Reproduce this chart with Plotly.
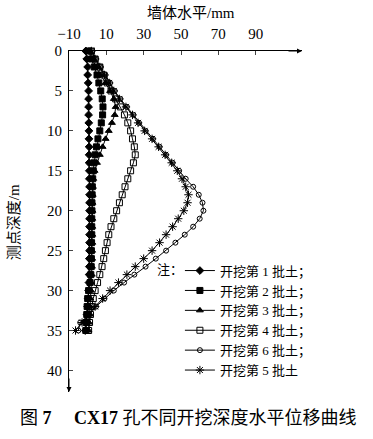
import plotly.graph_objects as go

depth = list(range(0, 36))

s1 = [-1, -0.5, 0, 0, 0.3, 0.5, 0.5, 0.5, 0.5, 0.6, 0.7, 0.7, 0.8, 0.8, 0.8, 0.9, 0.9, 1, 1, 1,
      1, 1, 1, 1, 1, 1, 0.9, 0.9, 0.8, 0.7, 0.5, 0.3, 0, -0.3, -0.8, -1.3]
s2 = [0.5, 2, 3.5, 5, 6, 7, 7.8, 8.2, 8, 7.3, 6.5, 5.5, 4.7, 4, 3.4, 3, 2.7, 2.5, 2.4, 2.3,
      2.3, 2.2, 2.2, 2.2, 2.1, 2, 2, 1.9, 1.7, 1.3, 0.5, 0, -0.3, -0.5, -0.8, -1]
s3 = [1, 2.5, 4.5, 7, 9.5, 12, 14, 15, 14.5, 13, 11.3, 9.6, 8, 6.5, 5, 3.7, 3, 2.8, 2.7, 2.6,
      2.6, 2.5, 2.5, 2.5, 2.5, 2.4, 2.4, 2.3, 2.2, 2, 1.8, 1.5, 1.2, 1, 0.7, 0.5]
s4 = [2, 4, 6.5, 8.5, 10.5, 12.5, 15, 17.5, 19.7, 21.5, 23, 24, 25, 25.5, 24.5, 23, 21.5, 20, 18.5, 17,
      15.5, 14, 12.5, 11.3, 10.4, 9.5, 8.6, 7.7, 6.5, 5.3, 4, 3, 2.2, 1.5, 1, 0.5]
s6 = [2.5, 4.5, 7, 9.5, 12, 14.5, 17.5, 21, 24.5, 27.5, 31, 35, 38.5, 42, 45.5, 49, 52.5, 56.5, 59.5, 61.5,
      62, 60, 56.5, 52, 47, 42, 36.5, 31, 25, 19.5, 14, 9, 4.5, 1, -4, -5]
s5 = [2, 4, 6.5, 9, 11.5, 14, 17, 20.5, 24, 27, 30.5, 34.5, 38, 41.5, 45, 48, 50.5, 52.5, 54, 53.5,
      51.5, 48.5, 45.5, 42, 38.5, 34.5, 30, 25.5, 21, 16.5, 12, 8, 4, 0.5, -3, -6.5]

names = ["开挖第 1 批土；", "开挖第 2 批土；", "开挖第 3 批土；", "开挖第 4 批土；", "开挖第 6 批土；", "开挖第 5 批土"]
series = [s1, s2, s3, s4, s6, s5]
symbols = ["diamond", "square", "triangle-up", "square-open", "circle-open", "asterisk-open"]
sizes = [6, 6, 6, 6, 5, 7]

x_ticks = [-10, 10, 30, 50, 70, 90]
y_ticks = [0, 5, 10, 15, 20, 25, 30, 35, 40]

serif = "Liberation Serif, Noto Sans CJK SC, serif"

fig = go.Figure()
for nm, s, sym, sz in zip(names, series, symbols, sizes):
    fig.add_trace(go.Scatter(
        x=s, y=depth, name=nm, mode="lines+markers",
        line=dict(color="black", width=1),
        marker=dict(symbol=sym, size=sz, color="black", line=dict(color="black", width=1)),
        cliponaxis=False,
    ))

fig.update_layout(
    width=373, height=439,
    margin=dict(l=69, r=71, t=51, b=47, autoexpand=False),
    paper_bgcolor="white", plot_bgcolor="white",
    font=dict(family=serif, size=15, color="black"),
    showlegend=True,
    legend=dict(x=0.476, y=0.40, xanchor="left", yanchor="top",
                bgcolor="rgba(0,0,0,0)", font=dict(size=13, family=serif),
                tracegroupgap=0),
    xaxis=dict(range=[-10, 114.8], side="top", tickvals=x_ticks, ticks="inside", ticklen=4,
               showline=True, linecolor="black", linewidth=1, showgrid=False, zeroline=False,
               automargin=False, ticklabelstandoff=5,
               tickfont=dict(size=15, family=serif)),
    yaxis=dict(range=[42.7, 0], tickvals=y_ticks, ticks="inside", ticklen=4,
               showline=True, linecolor="black", linewidth=1, showgrid=False, zeroline=False,
               automargin=False, ticklabelstandoff=3,
               tickfont=dict(size=15, family=serif)),
)

# axis arrows
fig.add_annotation(x=1, y=1, xref="paper", yref="paper", text="", showarrow=True,
                   arrowhead=2, arrowsize=1, arrowwidth=1, ax=-15, ay=0, arrowcolor="black")
fig.add_annotation(x=0, y=0, xref="paper", yref="paper", text="", showarrow=True,
                   arrowhead=2, arrowsize=1, arrowwidth=1, ax=0, ay=-15, arrowcolor="black")

# axis titles
fig.add_annotation(x=0.524, y=1.112, xref="paper", yref="paper", text="墙体水平/mm",
                   xanchor="center", yanchor="middle",
                   showarrow=False, font=dict(size=15, family=serif))
fig.add_annotation(x=-0.235, y=0.4985, xref="paper", yref="paper", text="测点深度/m",
                   xanchor="center", yanchor="middle",
                   textangle=-90, showarrow=False, font=dict(size=15, family=serif))

# legend note
fig.add_annotation(x=0.497, y=0.36, xref="paper", yref="paper", text="注：",
                   xanchor="right", yanchor="middle",
                   showarrow=False, font=dict(size=13, family=serif))

# caption
fig.add_annotation(x=0.513, y=-0.0762, xref="paper", yref="paper",
                   text="图 <b>7</b>     <b>CX17</b> 孔不同开挖深度水平位移曲线",
                   xanchor="center", yanchor="middle",
                   showarrow=False, font=dict(size=18, family=serif))

fig.write_html("out.html", config={"displayModeBar": False},
               post_script="document.body.style.margin='0';")
